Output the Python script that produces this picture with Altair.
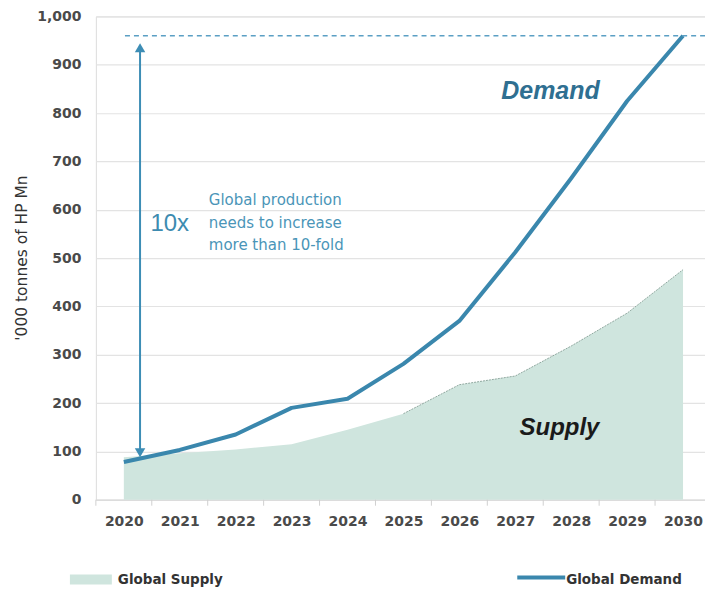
import altair as alt
import pandas as pd

years = [2020, 2021, 2022, 2023, 2024, 2025, 2026, 2027, 2028, 2029, 2030]
demand = [78, 103, 135, 190, 209, 281, 370, 512, 665, 825, 960]
supply = [88, 96, 104, 115, 145, 178, 238, 256, 318, 386, 476]
y_ticks = [0, 100, 200, 300, 400, 500, 600, 700, 800, 900, 1000]
tick_pos = [2019.5 + i for i in range(11)]

df = pd.DataFrame({"year": years, "demand": demand, "supply": supply})

W, H = 610, 484
TOP = 8
XDOM = [2019.5, 2019.5 + W / 56.0]
xs = alt.Scale(domain=XDOM, nice=False, zero=False)
ys = alt.Scale(domain=[0, 1000], nice=False)

FONT = "Liberation Sans"
WFONT = "DejaVu Sans"
LINE_C = "#3a87ad"
FILL_C = "#cfe5de"
TXT_C = "#4a4a4a"

area = alt.Chart(df).mark_area(color=FILL_C, opacity=1).encode(
    x=alt.X("year:Q", scale=xs, axis=alt.Axis(values=years, format="d", grid=False, ticks=False,
                                              domain=True, domainColor="#d9d9d9", labelFont=WFONT,
                                              labelFontSize=14, labelColor=TXT_C, labelPadding=15,
                                              labelFontWeight="bold", title=None)),
    y=alt.Y("supply:Q", scale=ys, axis=alt.Axis(values=y_ticks, format=",d", grid=True, gridColor="#e3e3e3",
                                                gridWidth=1.2, ticks=False, domain=False, labelFont=WFONT,
                                                labelFontSize=14, labelColor=TXT_C, labelPadding=15,
                                                labelFontWeight="bold", title=None)),
)

area_edge = alt.Chart(df[df.year >= 2025]).mark_line(color="#7a958c", strokeWidth=0.8, strokeDash=[2, 1]).encode(
    x=alt.X("year:Q", scale=xs), y=alt.Y("supply:Q", scale=ys))

line = alt.Chart(df).mark_line(color=LINE_C, strokeWidth=4, strokeJoin="round").encode(
    x=alt.X("year:Q", scale=xs), y=alt.Y("demand:Q", scale=ys))

# dashed target line
dash_df = pd.DataFrame({"x": [2020.02], "x2": [XDOM[1]], "y": [960]})
dash = alt.Chart(dash_df).mark_rule(color="#5b9fc4", strokeWidth=1.3, strokeDash=[5, 4]).encode(
    x=alt.X("x:Q", scale=xs), x2="x2:Q", y=alt.Y("y:Q", scale=ys))

# arrow
arr_df = pd.DataFrame({"x": [2020.29], "y": [100], "y2": [930]})
arrow = alt.Chart(arr_df).mark_rule(color="#3d8db5", strokeWidth=2).encode(
    x=alt.X("x:Q", scale=xs), y=alt.Y("y:Q", scale=ys), y2="y2:Q")
heads_df = pd.DataFrame({"x": [2020.29, 2020.29], "y": [935, 97], "shape": ["triangle-up", "triangle-down"]})
heads = alt.Chart(heads_df).mark_point(filled=True, color="#3d8db5", size=110, opacity=1).encode(
    x=alt.X("x:Q", scale=xs), y=alt.Y("y:Q", scale=ys),
    shape=alt.Shape("shape:N", scale=alt.Scale(domain=["triangle-up", "triangle-down"],
                                               range=["triangle-up", "triangle-down"]), legend=None))

# minor x ticks between years
tick_df = pd.DataFrame({"x": tick_pos})
xticks = alt.Chart(tick_df).mark_rule(color="#d0d0d0", strokeWidth=1).encode(
    x=alt.X("x:Q", scale=xs), y=alt.value(H), y2=alt.value(H + 6))

def label(text, x, y, size, color, weight="normal", style="normal", align="center", font=FONT):
    d = pd.DataFrame({"x": [x], "y": [y], "t": [text]})
    return alt.Chart(d).mark_text(font=font, fontSize=size, color=color, fontWeight=weight,
                                  fontStyle=style, align=align, baseline="middle").encode(
        x=alt.X("x:Q", scale=xs), y=alt.Y("y:Q", scale=ys), text="t:N")

demand_lbl = label("Demand", 2027.63, 846, 25, "#2f6f91", "bold", "italic")
supply_lbl = label("Supply", 2027.79, 148, 24, "#1a1a1a", "bold", "italic")
tenx = label("10x", 2020.82, 571, 24, "#3d8bb0")
note_df = pd.DataFrame({"x": [2021.52] * 3, "y": [620, 573, 526],
                        "t": ["Global production", "needs to increase", "more than 10-fold"]})
note = alt.Chart(note_df).mark_text(font=WFONT, fontSize=15, color="#4a95b8", align="left",
                                    baseline="middle").encode(
    x=alt.X("x:Q", scale=xs), y=alt.Y("y:Q", scale=ys), text="t:N")

# y title
ytitle = alt.Chart(pd.DataFrame({"t": ["'000 tonnes of HP Mn"]})).mark_text(
    font=WFONT, fontSize=15.5, color="#333333", angle=270, align="center", baseline="middle").encode(
    x=alt.value(-74), y=alt.value(242), text="t:N")

# legend
leg_sw = alt.Chart(pd.DataFrame({"a": [0]})).mark_rect(color=FILL_C).encode(
    x=alt.value(-26), x2=alt.value(16), y=alt.value(559), y2=alt.value(569))
leg_ln = alt.Chart(pd.DataFrame({"a": [0]})).mark_rule(color=LINE_C, strokeWidth=4).encode(
    x=alt.value(422), x2=alt.value(470), y=alt.value(562))
leg_txt = alt.Chart(pd.DataFrame({"t": ["Global Supply", "Global Demand"], "x": [22, 471]})).mark_text(
    font=WFONT, fontSize=13.5, color="#333333", align="left", baseline="middle", fontWeight="bold").encode(
    x=alt.X("x:Q", scale=None), y=alt.value(564), text="t:N")

chart = alt.layer(area, area_edge, line, dash, arrow, heads, xticks, demand_lbl, supply_lbl, tenx, note,
                  ytitle, leg_sw, leg_ln, leg_txt).properties(
    width=W, height=H,
    autosize=alt.AutoSizeParams(type="none"),
    padding={"left": 88, "top": TOP, "right": 0, "bottom": 90},
).configure_view(stroke=None).configure(background="white")

chart.save("out.html", embed_options={"renderer": "svg", "actions": False})
